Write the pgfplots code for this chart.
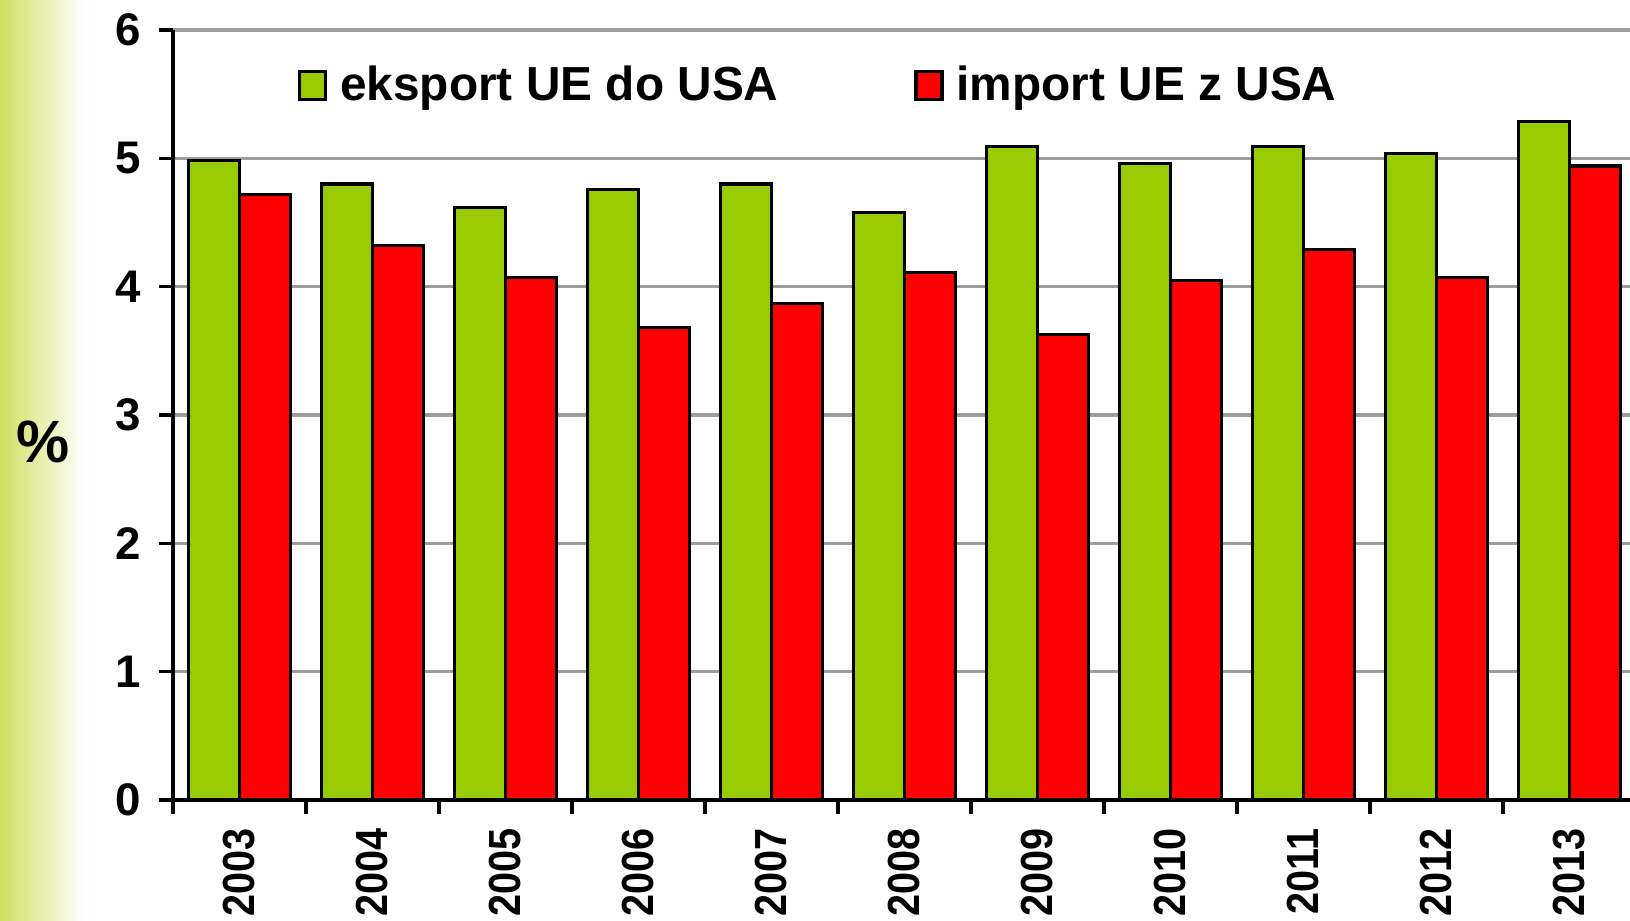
\documentclass[border=0pt]{standalone}
\usepackage{pgfplots}
\pgfplotsset{compat=1.18}
\usepackage{fontspec}
\setmainfont{Liberation Sans}
\definecolor{ekspgreen}{HTML}{99CC00}
\definecolor{impred}{HTML}{FF0000}
\definecolor{stripgreen}{RGB}{208,223,98}

\begin{document}
\begin{tikzpicture}
% left decorative strip
\shade[left color=stripgreen, right color=white] (-1.73,-1.21) rectangle (-0.88,8.00);
\begin{axis}[
  scale only axis, width=14.63cm, height=7.70cm,
  at={(0,0)}, anchor=south west,
  ybar=0pt, bar width=0.51cm,
  xmin=-0.5, xmax=10.5, ymin=0, ymax=6,
  ytick={0,1,2,3,4,5,6},
  xtick={-0.5,0.5,...,10.5},
  x tick label as interval,
  xticklabels={2003,2004,2005,2006,2007,2008,2009,2010,2011,2012,2013},
  axis lines*=left,
  axis line style={black, line width=0.9pt},
  tick style={black, line width=0.9pt},
  tick align=outside, major tick length=0.14cm,
  ymajorgrids, grid style={black!38, line width=0.9pt},
  /pgf/number format/assume math mode=true,
  y tick label style={font=\fontsize{13}{15}\selectfont\bfseries, xshift=-0.06cm},
  x tick label style={font=\fontsize{12.8}{15}\selectfont\bfseries, rotate=90, xscale=0.88, anchor=east, xshift=-0.04cm},
  ylabel={\%},
  ylabel style={rotate=-90, font=\fontsize{17}{19}\selectfont\bfseries, at={(rel axis cs:0,0.465)}, anchor=center, xshift=-1.30cm},
  legend style={at={(0.085,0.927)}, anchor=west, draw=none, fill=none,
    font=\fontsize{13.6}{15}\selectfont\bfseries, legend columns=2, inner xsep=0pt,
    /tikz/every even column/.append style={column sep=1.29cm}},
  legend image code/.code={\draw[#1, draw=black, line width=0.9pt] (0cm,-0.13cm) rectangle (0.26cm,0.15cm); \path (0.32cm,0cm);},
]
\addplot[fill=ekspgreen, draw=black, line width=0.9pt] coordinates {
  (0,4.98) (1,4.80) (2,4.62) (3,4.76) (4,4.80) (5,4.58) (6,5.09) (7,4.96) (8,5.09) (9,5.04) (10,5.29)};
\addlegendentry{eksport UE do USA}
\addplot[fill=impred, draw=black, line width=0.9pt] coordinates {
  (0,4.72) (1,4.32) (2,4.07) (3,3.68) (4,3.87) (5,4.11) (6,3.63) (7,4.05) (8,4.29) (9,4.07) (10,4.94)};
\addlegendentry{import UE z USA}
\end{axis}
\pgfresetboundingbox
\path[use as bounding box] (-1.73,-1.21) rectangle (14.57,8.00);
\end{tikzpicture}
\end{document}
